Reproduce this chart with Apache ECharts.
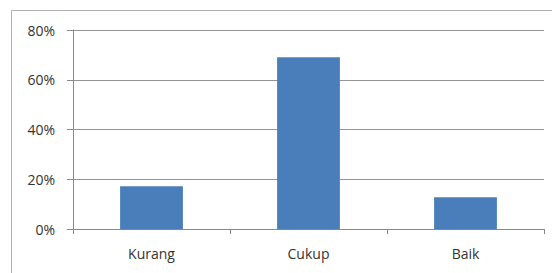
<!DOCTYPE html>
<html>
<head>
<meta charset="utf-8">
<script src="https://cdn.jsdelivr.net/npm/echarts@6/dist/echarts.min.js"></script>
<style>
  html, body { margin: 0; padding: 0; background: #fff; }
  #chart { width: 552px; height: 273px; }
</style>
</head>
<body>
<div id="chart"></div>
<script>
(function() {
  var categories = ['Kurang', 'Cukup', 'Baik'];
  var values = [0.172, 0.69, 0.128];

  var ink = '#333333';
  var rule = '#959595';

  var chart = echarts.init(document.getElementById('chart'), null, { renderer: 'svg' });

  chart.setOption({
    animation: false,
    graphic: [{
      type: 'rect',
      silent: true,
      shape: { x: 11.5, y: 10.5, width: 600, height: 300 },
      style: { fill: 'none', stroke: '#b0b0b0', lineWidth: 1 }
    }],
    grid: { left: 73, right: 8, top: 30, bottom: 44 },
    xAxis: {
      type: 'category',
      data: categories,
      axisLine: { lineStyle: { color: '#888888' } },
      axisTick: { show: true, length: 5, lineStyle: { color: '#888888' } },
      axisLabel: { color: ink, fontSize: 14, fontFamily: 'Open Sans', margin: 17 }
    },
    yAxis: {
      type: 'value',
      min: 0, max: 0.8, interval: 0.2,
      axisLine: { show: true, lineStyle: { color: '#888888' } },
      axisTick: { show: true, length: 6, lineStyle: { color: '#888888' } },
      axisLabel: {
        color: ink, fontSize: 14, fontFamily: 'Open Sans', margin: 18,
        formatter: function(v) { return Math.round(v * 100) + '%'; }
      },
      splitLine: { lineStyle: { color: rule, width: 1 } }
    },
    series: [{
      type: 'bar',
      data: values,
      barWidth: '40%',
      itemStyle: { color: '#4a7ebb' }
    }]
  });
})();
</script>
</body>
</html>
